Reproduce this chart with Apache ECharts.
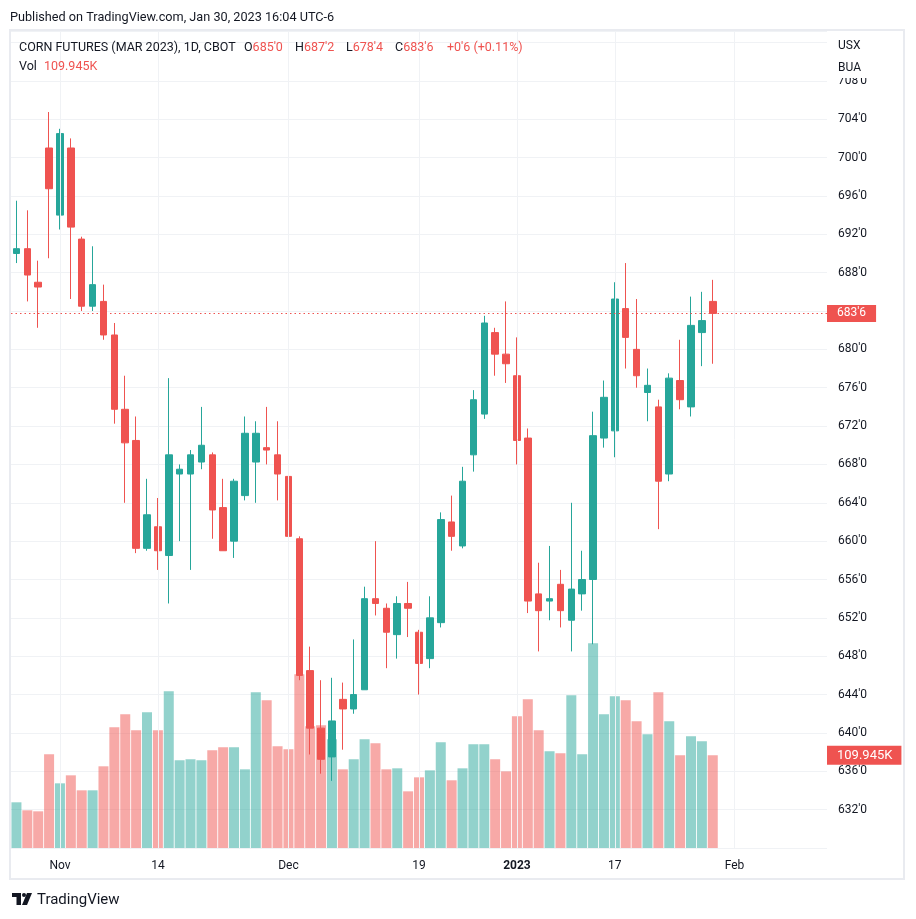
<!DOCTYPE html>
<html><head><meta charset="utf-8">
<script src="https://cdn.jsdelivr.net/npm/echarts@6/dist/echarts.min.js"></script>
<style>html,body{margin:0;padding:0;background:#fff;}#c{width:916px;height:919px;}</style>
</head><body><div id="c"></div>
<script>
const dates = [
'2022-10-26','2022-10-27','2022-10-28','2022-10-31',
'2022-11-01','2022-11-02','2022-11-03','2022-11-04','2022-11-07','2022-11-08','2022-11-09','2022-11-10','2022-11-11',
'2022-11-14','2022-11-15','2022-11-16','2022-11-17','2022-11-18','2022-11-21','2022-11-22','2022-11-23','2022-11-25',
'2022-11-28','2022-11-29','2022-11-30',
'2022-12-01','2022-12-02','2022-12-05','2022-12-06','2022-12-07','2022-12-08','2022-12-09','2022-12-12','2022-12-13',
'2022-12-14','2022-12-15','2022-12-16','2022-12-19','2022-12-20','2022-12-21','2022-12-22','2022-12-23','2022-12-27',
'2022-12-28','2022-12-29','2022-12-30',
'2023-01-03','2023-01-04','2023-01-05','2023-01-06','2023-01-09','2023-01-10','2023-01-11','2023-01-12','2023-01-13',
'2023-01-17','2023-01-18','2023-01-19','2023-01-20','2023-01-23','2023-01-24','2023-01-25','2023-01-26','2023-01-27',
'2023-01-30'];
const futureDates = ['2023-01-31','2023-02-01','2023-02-02','2023-02-03','2023-02-06','2023-02-07','2023-02-08','2023-02-09','2023-02-10','2023-02-13'];
const opens = [690.0,690.5,687.0,701.0,694.0,701.0,691.5,684.5,685.0,681.5,673.75,670.5,659.25,661.5,658.5,667.0,667.0,668.25,669.0,663.5,660.0,664.75,668.25,669.75,669.0,666.75,660.25,646.5,640.5,637.5,643.5,642.5,644.5,654.0,653.0,650.25,653.5,650.5,647.75,651.5,662.0,659.5,669.0,673.25,681.75,679.5,677.25,670.75,654.5,653.75,655.5,651.75,654.5,656.0,670.75,671.5,684.25,680.0,675.5,674.0,667.0,676.75,674.0,681.75,685.0];
const highs = [695.5,694.5,689.25,704.75,703.0,702.0,691.75,690.75,686.75,682.75,677.25,673.0,666.5,664.5,677.0,668.0,669.5,674.0,669.25,666.5,666.5,673.0,672.5,674.0,672.5,669.0,660.5,649.0,645.5,645.75,645.25,649.75,655.25,660.0,653.5,654.25,655.75,650.75,654.25,663.0,664.75,667.75,675.75,683.5,682.25,685.0,681.25,671.75,657.75,659.5,657.0,664.0,659.0,673.5,676.75,687.0,689.0,685.25,678.0,674.75,677.5,681.0,685.5,686.0,687.25];
const lows = [689.0,685.0,682.25,689.5,692.5,685.25,684.0,684.0,681.0,672.25,664.0,658.75,659.0,657.0,653.5,660.0,657.0,667.5,660.25,659.0,658.25,664.25,664.0,668.0,664.25,659.25,645.5,637.75,635.75,635.0,638.25,642.0,644.5,652.25,646.75,647.75,650.0,644.0,646.75,651.0,659.0,659.25,667.25,672.75,677.25,676.5,668.0,652.5,648.5,651.75,651.0,648.5,652.75,649.25,669.75,668.75,678.0,676.0,672.5,661.25,666.25,673.75,673.0,678.25,678.5];
const closes = [690.5,687.75,686.5,696.75,702.5,692.75,684.5,686.75,681.5,673.75,670.25,659.25,662.75,659.0,669.0,667.5,669.0,670.0,663.25,659.0,666.25,671.25,671.25,669.5,667.0,660.5,646.0,640.5,637.25,641.25,642.5,644.0,654.0,653.5,650.5,653.5,653.0,647.25,652.0,662.25,660.5,666.25,674.75,682.75,679.5,678.5,670.5,653.75,652.75,654.0,652.75,655.0,656.0,671.0,675.0,685.25,681.25,677.25,676.25,666.25,677.0,674.75,682.5,683.0,683.75];
const volumes = [54.2,44.7,43.5,111.1,76.7,86.2,68.4,68.4,96.9,143.1,158.6,139.6,160.9,139.6,185.8,104.0,105.2,104.0,115.9,119.4,119.4,93.3,184.7,175.2,120.6,117.0,206.0,144.3,145.5,128.9,93.3,105.2,128.9,124.2,93.3,94.5,67.2,83.8,92.1,125.3,80.3,94.5,123.0,123.0,105.2,90.9,156.2,176.3,139.6,114.7,112.3,181.1,111.1,242.8,158.6,179.9,175.2,150.3,134.8,184.7,150.3,109.9,132.5,126.5,109.945];
const tickDates = ['2022-11-01','2022-11-14','2022-12-01','2022-12-19','2023-01-03','2023-01-17','2023-02-01'];
const tickTexts = ['Nov','14','Dec','19','2023','17','Feb'];

const UP = '#26a69a', DOWN = '#ef5350';
const TXT = '#131722';
const FONT = 'Roboto, "Noto Sans", sans-serif';
function fmt(v){ const f=Math.floor(v+1e-9); return f + "'" + Math.round((v-f)*8); }

const n = closes.length;
const lastO = opens[n-1], lastH = highs[n-1], lastL = lows[n-1], lastC = closes[n-1], lastV = volumes[n-1];
const chg = lastC - closes[n-2];
const chgPct = (chg/closes[n-2]*100).toFixed(2);
const lastColor = lastC >= lastO ? UP : DOWN;

const allDates = dates.concat(futureDates);
const candleData = dates.map((d,i)=>[opens[i], closes[i], lows[i], highs[i]]);
const volData = volumes.map((v,i)=>({value:v, itemStyle:{color: closes[i]>=opens[i]?UP:DOWN, opacity:0.5}}));

const HF = '12.5px '+FONT;
function ohlc(letter, val, x){
  return {type:'text', z:101, left:x, top:41, style:{text:'{n|'+letter+'}{r|'+val+'}',
    rich:{n:{fill:TXT, font:HF}, r:{fill:lastColor, font:HF}}, font:HF}};
}

const chart = echarts.init(document.getElementById('c'), null, {renderer:'canvas'});
chart.setOption({
  animation:false,
  backgroundColor:'#ffffff',
  grid:{left:11, right:89, top:31, bottom:71},
  xAxis:{
    type:'category', data: allDates, boundaryGap:true,
    axisLine:{show:false}, axisTick:{show:false}, splitLine:{show:false},
    axisLabel:{
      interval:(idx,val)=>tickDates.indexOf(val)>=0,
      margin:12, color:TXT, fontSize:12, fontFamily:FONT,
      formatter:(val)=>{ const k=tickDates.indexOf(val); if(k<0) return ''; const t=tickTexts[k]; return /^\d{4}$/.test(t)?'{b|'+t+'}':t; },
      rich:{b:{fontWeight:'bold', color:TXT, fontSize:12, fontFamily:FONT}}
    }
  },
  yAxis:[
    {type:'value', position:'right', min:628, max:713.2, interval:4, scale:true,
     axisLine:{show:false}, axisTick:{show:false},
     splitLine:{show:true, lineStyle:{color:'#f0f2f5', width:1}},
     axisLabel:{margin:11, color:TXT, fontSize:12, fontFamily:FONT,
       formatter:(v)=>{ if(Math.abs(v/4-Math.round(v/4))>1e-6) return ''; if(v<=628||v>=712||v===684) return ''; return fmt(v);} }
    },
    {type:'value', min:0, max:969, show:false, splitLine:{show:false}}
  ],
  series:[
    {type:'bar', name:'Vol', xAxisIndex:0, yAxisIndex:1, data:volData, barWidth:10, z:1,
     markLine:{silent:true, symbol:'none', animation:false,
       data: tickDates.map(d=>({xAxis:d, lineStyle:{color:'#f0f2f5', type:'solid', width:1}, label:{show:false}}))
         .concat([{yAxis:lastV, lineStyle:{color:'rgba(0,0,0,0)', width:1},
           label:{show:true, position:'end', distance:0, formatter:()=>lastV.toFixed(3)+'K', color:'#fff', backgroundColor:lastColor,
             padding:[3,9,3,10], fontSize:13, fontFamily:FONT, borderRadius:0}}])
     }
    },
    {type:'candlestick', name:'CORN', data:candleData, barWidth:7, z:3,
     itemStyle:{color:UP, color0:DOWN, borderColor:UP, borderColor0:DOWN, borderWidth:1},
     markLine:{silent:true, symbol:'none', animation:false,
       data:[{yAxis:lastC, lineStyle:{color:lastColor, type:[1.5,3], width:1},
         label:{show:true, position:'end', distance:0, formatter:()=>fmt(lastC), color:'#fff', backgroundColor:lastColor,
           padding:[3,10,2,10], fontSize:12, fontFamily:FONT}}]
     }
    }
  ],
  graphic:[
    {type:'rect', z:0, silent:true, shape:{x:10, y:30, width:894, height:849}, style:{fill:null, stroke:'#e9ebf0', lineWidth:2}},
    {type:'rect', z:100, silent:true, shape:{x:829, y:32, width:74, height:46}, style:{fill:'#ffffff'}},
    {type:'text', z:101, left:838, top:40, style:{text:'USX', fill:TXT, font:'12px '+FONT}},
    {type:'text', z:101, left:838, top:62, style:{text:'BUA', fill:TXT, font:'12px '+FONT}},
    {type:'text', z:101, left:10, top:11, style:{text:'Published on TradingView.com, Jan 30, 2023 16:04 UTC-6', fill:TXT, font:'12.7px '+FONT}},
    {type:'text', z:101, left:19, top:41, style:{text:'CORN FUTURES (MAR 2023), 1D, CBOT', fill:TXT, font:'12.5px '+FONT}},
    ohlc('O', fmt(lastO), 244),
    ohlc('H', fmt(lastH), 295),
    ohlc('L', fmt(lastL), 346),
    ohlc('C', fmt(lastC), 395),
    {type:'text', z:101, left:447, top:41, style:{text:(chg>=0?'+':'-')+fmt(Math.abs(chg))+' ('+(chg>=0?'+':'')+chgPct+'%)', fill:lastColor, font:HF}},
    {type:'text', z:101, left:19, top:60, style:{text:'Vol', fill:TXT, font:HF}},
    {type:'text', z:101, left:44, top:60, style:{text:lastV.toFixed(3)+'K', fill:lastColor, font:HF}},
    {type:'group', z:101, left:12, top:893, children:[
      {type:'rect', shape:{x:0, y:0, width:9, height:4}, style:{fill:TXT}},
      {type:'rect', shape:{x:4.5, y:0, width:4.5, height:12}, style:{fill:TXT}},
      {type:'circle', shape:{cx:12, cy:2, r:2}, style:{fill:TXT}},
      {type:'polygon', shape:{points:[[15,0],[20,0],[15,12],[10,12]]}, style:{fill:TXT}}
    ]},
    {type:'text', z:101, left:37, top:893, style:{text:'TradingView', fill:TXT, font:'15px '+FONT}}
  ]
});
</script></body></html>
